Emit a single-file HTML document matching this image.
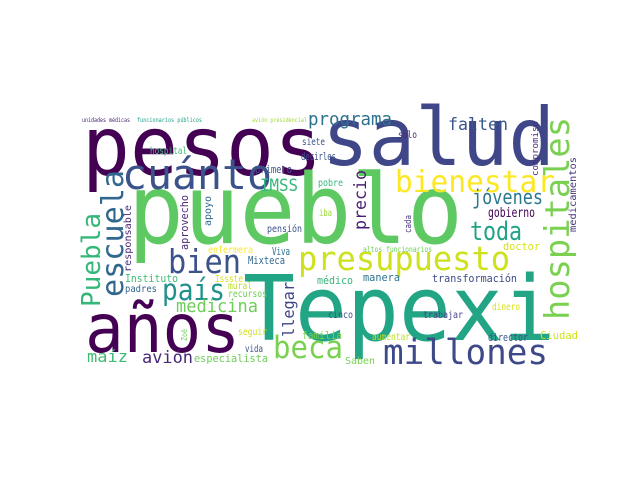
<!DOCTYPE html>
<html><head><meta charset="utf-8"><style>
html,body{margin:0;padding:0;background:#fff;}
svg{display:block;}
text{font-family:"DejaVu Sans Mono","Liberation Mono",monospace;}
</style></head><body>
<svg id="cloud" width="640" height="480" viewBox="0 0 640 480" xmlns="http://www.w3.org/2000/svg">
<rect x="0" y="0" width="640" height="480" fill="#fff"/>
</svg>
<script>
// word, x, baseline y, length, font size, color, vertical
const words = ["pesos","salud","pueblo","Tepexi","años","millones","presupuesto","cuánto","bienestar","bien","país","beca","toda","jóvenes","falten","programa","IMSS","medicina","maíz","avión","especialista","gobierno","primero","pobre","pensión","iba","siete","decirles","hospital","sólo","doctor","altos funcionarios","enfermera","Viva","Mixteca","Instituto","Issste","médico","manera","transformación","padres","mural","recursos","seguir","familia","cinco","trabajar","dinero","director","Ciudad","aumentar","vida","Saben","unidades médicas","funcionarios públicos","avión presidencial","escuela","Puebla","hospitales","llegar","precio","responsable","aprovecho","apoyo","cada","compromiso","medicamentos","Zoë"];
const xs = [82,322,128,243,85,383,298,122,395,168,162,273,470,472,448,308,260,176,87,142,194,488,255,318,267,319,302,301,150,398,503,363,208,272,248,125,215,317,363,432,125,228,228,238,302,328,423,492,488,540,372,245,345,82,137,252,123,100,569,294,366,131,188,211,411,538,576,187];
const ys = [175,165,243,340,352,364,270,189,192,273,300,358,240,204,130,125,191,312,362,363,362,217,173,186,232,216,145,160,154,138,250,252,253,255,264,282,282,284,281,282,292,289,297,335,339,318,318,310,341,339,340,352,364,122,122,122,297,307,320,337,230,272,250,226,233,176,232,341];
const lens = [240,233,335,312,155,165,212,150,160,73,63,70,52,71,60,84,38,82,41,51,74,47,37,25,35,13,23,35,37,19,37,69,45,18,37,53,28,36,37,85,32,24,39,29,40,25,40,28,40,38,38,18,30,48,65,55,127,94,203,55,60,67,55,30,18,55,75,12];
const sizes = [82,80,96,90,68,35,33,42,30,33,29,31,26,20,17,18,17,18,16,17,11,13,11,10,10,10,10,11,10,10,11,8,9.5,11,11,11,10,11,11,11,10,10,10,10,11,10,10,10,11,11,10,10,10,6,6,6,30,26,34,16,17,10,10.5,10,9,9,10,8];
const colors = ["#440154","#3f4788","#5ec962","#21a585","#440154","#3e4989","#cde11d","#3b528b","#fde725","#3b528b","#21918c","#7ad151","#20a386","#2a788e","#39568c","#2c728e","#35b779","#6ece58","#3fbc73","#482878","#6ece58","#440154","#3b528b","#35b779","#3b528b","#a0da39","#3b528b","#3b528b","#3fbc73","#482878","#d8e219","#6ece58","#fde725","#2c728e","#31688e","#3fbc73","#d8e219","#35b779","#2c728e","#3e4a89","#31688e","#bddf26","#6ece58","#d2e21b","#7ad151","#3b528b","#414487","#d8e219","#39568c","#d2e21b","#bddf26","#3b528b","#7ad151","#482878","#20a386","#a0da39","#31688e","#35b779","#7ad151","#414487","#481f70","#482878","#482878","#31688e","#46337e","#472d7b","#46337e","#6ece58"];
const vertical = [0,0,0,0,0,0,0,0,0,0,0,0,0,0,0,0,0,0,0,0,0,0,0,0,0,0,0,0,0,0,0,0,0,0,0,0,0,0,0,0,0,0,0,0,0,0,0,0,0,0,0,0,0,0,0,0,1,1,1,1,1,1,1,1,1,1,1,1];
const svg = document.getElementById('cloud');
const NS = "http://www.w3.org/2000/svg";
for (let i = 0; i < words.length; i++) {
  const t = document.createElementNS(NS, 'text');
  t.setAttribute('x', xs[i]);
  t.setAttribute('y', ys[i]);
  t.setAttribute('font-size', sizes[i]);
  t.setAttribute('fill', colors[i]);
  t.setAttribute('textLength', lens[i]);
  t.setAttribute('lengthAdjust', 'spacingAndGlyphs');
  if (vertical[i]) t.setAttribute('transform', 'rotate(-90 ' + xs[i] + ' ' + ys[i] + ')');
  t.textContent = words[i];
  
  
  svg.appendChild(t);
}
</script>
</body></html>
